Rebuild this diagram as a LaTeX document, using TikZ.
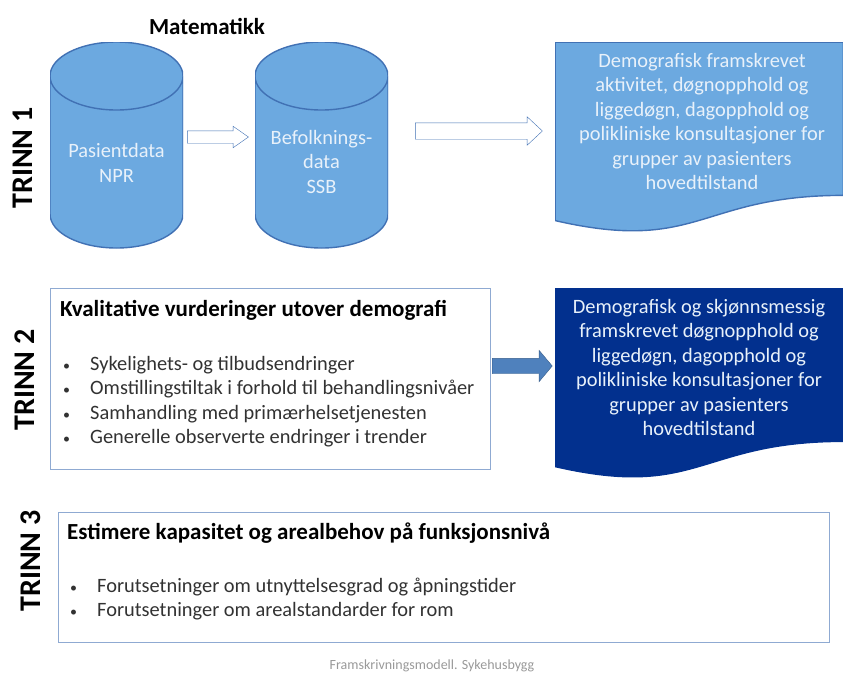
\documentclass[tikz,border=0pt]{standalone}
\usepackage{fontspec}
\setmainfont{Carlito}
\usetikzlibrary{positioning, shapes.geometric, shapes.arrows, calc}

\definecolor{DataBlue}{RGB}{108, 169, 224}
\definecolor{DataEdge}{RGB}{65, 113, 180}
\definecolor{DeepNavy}{RGB}{2, 48, 142}
\definecolor{FrameBlue}{RGB}{143, 170, 210}
\definecolor{PipeBlue}{RGB}{79, 129, 189}
\definecolor{PipeEdge}{RGB}{56, 93, 138}
\definecolor{SoftWhite}{RGB}{232, 241, 250}
\definecolor{BodyGrey}{RGB}{50, 50, 50}

\newcommand{\bul}{\makebox[27pt][l]{\fontsize{14}{14}\selectfont\textbullet}}

\begin{document}
\begin{tikzpicture}[x=1pt, y=-1pt,
        font=\fontsize{20.4}{24.5}\selectfont,
        trinn/.style={rotate=90, font=\fontsize{30}{30}\selectfont\bfseries, inner sep=0pt},
        store/.style={minimum width=133pt, minimum height=206pt, inner sep=0pt,
            path picture={\path let \p1=(path picture bounding box.north west), \p2=(path picture bounding box.south east), \n1={0.5*(\x2-\x1)} in
                [fill=DataBlue, draw=DataEdge, line width=1.4pt] (\x1,{\y1-34pt}) -- (\x1,{\y2+34pt})
                arc[start angle=180, end angle=360, x radius=\n1, y radius=34pt] -- (\x2,{\y1-34pt})
                arc[start angle=0, end angle=180, x radius=\n1, y radius=34pt] -- cycle
                (\x1,{\y1-34pt}) arc[start angle=180, end angle=360, x radius=\n1, y radius=34pt];}},
        storetext/.style={text=SoftWhite, align=center, anchor=base, inner sep=0pt},
        hollow/.style={single arrow, draw=DataEdge, fill=white, inner xsep=0pt},
        fullarrow/.style={single arrow, draw=PipeEdge, fill=PipeBlue, inner xsep=0pt},
        docshape/.style 2 args={minimum width=288pt, minimum height=191pt, inner sep=0pt, anchor=north west,
            path picture={\path let \p1=(path picture bounding box.north west), \p2=(path picture bounding box.south east), \n1={\y1-\y2} in
                [fill=#1, draw=#2, line width=1.4pt] (\x1,\y1) -- (\x2,\y1) -- (\x2,{\y1-0.802*\n1})
                .. controls ({(\x1+\x2)/2},{\y1-0.802*\n1}) and ({(\x1+\x2)/2},{\y1-1.1075*\n1}) .. (\x1,{\y1-0.934*\n1}) -- cycle;}},
        doctext/.style={text=SoftWhite, align=center, anchor=base, inner sep=0pt},
        stepframe/.style={draw=FrameBlue, line width=0.8pt, anchor=north west, inner sep=0pt},
        heading/.style={font=\fontsize{23}{27}\selectfont\bfseries, anchor=base west, inner sep=0pt},
        items/.style={text=BodyGrey, align=left, anchor=base west, inner sep=0pt}
    ]
    \useasboundingbox (0,0) rectangle (843,673);

    % Trinn 1
    \node[trinn] (trinnA) at (23,158) {TRINN 1};
    \node[font=\fontsize{23}{23}\selectfont\bfseries, anchor=base] (math) at (207,34) {Matematikk};
    \node[store] (npr) at (116.5,145) {};
    \node[storetext] (nprtxt) at (116.5,182) {Pasientdata\\NPR};
    \node[store] (ssb) at (321.5,145) {};
    \node[storetext] (ssbtxt) at (321.5,193) {Befolknings-\\data\\SSB};
    \node[hollow, minimum height=61pt, inner ysep=6pt, single arrow head extend=4.5pt, single arrow tip angle=70] (arrA) at (213.5,137) {};
    \node[hollow, minimum height=127pt, inner ysep=8pt, single arrow head extend=6pt, single arrow tip angle=86] (arrB) at (474.5,131) {};
    \node[docshape={DataBlue}{DataEdge}] (docA) at (555,42) {};
    \node[doctext] (docAtxt) at (702,189.5) {Demografisk framskrevet\\aktivitet, døgnopphold og\\liggedøgn, dagopphold og\\polikliniske konsultasjoner for\\grupper av pasienters\\hovedtilstand};

    % Trinn 2
    \node[trinn] (trinnB) at (25,380) {TRINN 2};
    \node[stepframe, minimum width=440pt, minimum height=181pt] (boxB) at (50,288) {};
    \node[heading] (headB) at (60,316) {Kvalitative vurderinger utover demografi};
    \node[items] (listB) at (63,443.5) {\bul Sykelighets- og tilbudsendringer\\\bul Omstillingstiltak i forhold til behandlingsnivåer\\\bul Samhandling med primærhelsetjenesten\\\bul Generelle observerte endringer i trender};
    \node[fullarrow, minimum height=60pt, inner ysep=7.5pt, single arrow head extend=8pt, single arrow tip angle=100] (arrC) at (519,366) {};
    \node[docshape={DeepNavy}{DeepNavy}] (docB) at (555,288) {};
    \node[doctext] (docBtxt) at (699,435.5) {Demografisk og skjønnsmessig\\framskrevet døgnopphold og\\liggedøgn, dagopphold og\\polikliniske konsultasjoner for\\grupper av pasienters\\hovedtilstand};

    % Trinn 3
    \node[trinn] (trinnC) at (31,561) {TRINN 3};
    \node[stepframe, minimum width=771pt, minimum height=130pt] (boxC) at (58,512) {};
    \node[heading] (headC) at (67,539) {Estimere kapasitet og arealbehov på funksjonsnivå};
    \node[items] (listC) at (70,616.5) {\bul Forutsetninger om utnyttelsesgrad og åpningstider\\\bul Forutsetninger om arealstandarder for rom};

    \node[font=\fontsize{14}{14}\selectfont, text=gray!80, anchor=base] (caption) at (432,669) {Framskrivningsmodell. Sykehusbygg};
\end{tikzpicture}
\end{document}
